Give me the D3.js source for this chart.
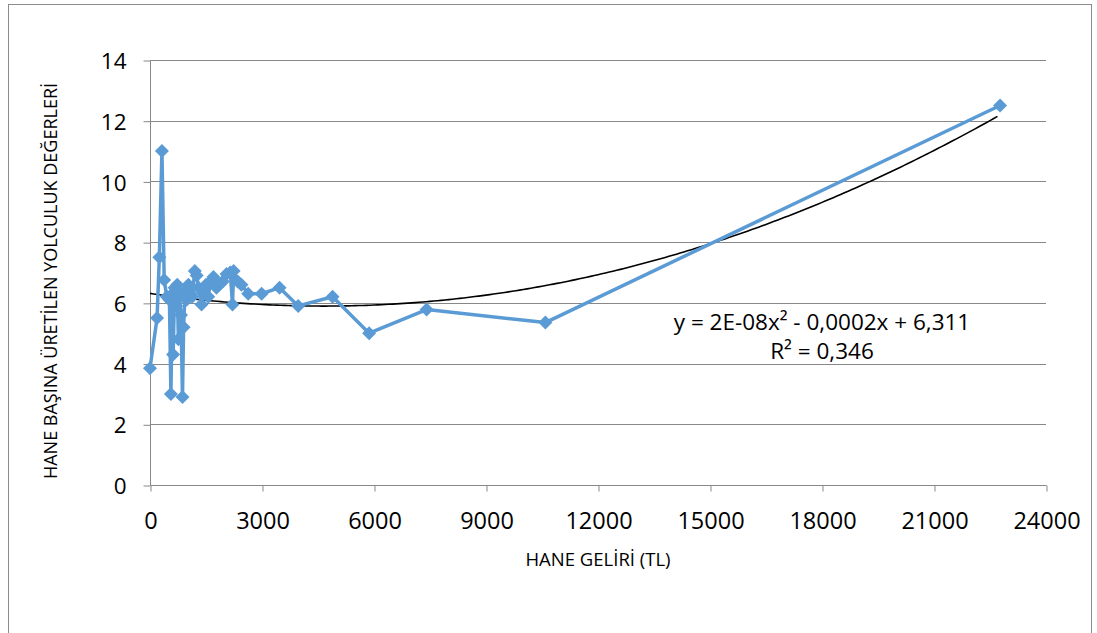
<!DOCTYPE html>
<html><head><meta charset="utf-8">
<script src="https://cdn.jsdelivr.net/npm/d3@7"></script>
<style>
html,body{margin:0;padding:0;background:#fff;}
svg{display:block;font-family:"Open Sans",sans-serif;}
</style></head>
<body>
<svg id="chart" width="1097" height="633"></svg>
<script>
// Data
const income = [0,190,250,320,380,450,520,560,600,620,660,700,730,760,790,830,870,900,940,980,1030,1080,1130,1200,1250,1300,1380,1430,1500,1560,1620,1700,1780,1850,1950,2050,2150,2210,2240,2350,2450,2630,2990,3470,3970,4890,5870,7410,10590,22770];
const trips  = [3.85,5.5,7.5,11.0,6.75,6.2,6.1,3.0,6.3,4.3,6.5,5.9,6.6,4.8,6.3,5.6,2.9,5.2,6.4,6.1,6.6,6.3,6.2,7.05,6.9,6.5,5.95,6.3,6.6,6.2,6.7,6.85,6.5,6.6,6.7,6.95,7.0,5.95,7.05,6.7,6.6,6.3,6.3,6.5,5.9,6.2,5.0,5.78,5.35,12.5];
const xTicks = [0,3000,6000,9000,12000,15000,18000,21000,24000];
const yTicks = [0,2,4,6,8,10,12,14];
const trendCoef = [1.92e-8, -1.79e-4, 6.311]; // a, b, c (unrounded fit)
const eqLines = ["y = 2E-08x² - 0,0002x + 6,311", "R² = 0,346"];
const xTitle = "HANE GELİRİ (TL)";
const yTitle = "HANE BAŞINA ÜRETİLEN YOLCULUK DEĞERLERİ";

const svg = d3.select("#chart");
const L=150,R=1046,T=60,B=485;
const x = d3.scaleLinear().domain([0,24000]).range([L,R]);
const y = d3.scaleLinear().domain([0,14]).range([B,T]);

// outer frame
svg.append("rect").attr("x",8.5).attr("y",4.5).attr("width",1083).attr("height",640)
  .attr("fill","#fff").attr("stroke","#8c8c8c").attr("stroke-width",1);

// gridlines
svg.append("g").selectAll("line").data(yTicks.filter(d=>d>0)).join("line")
  .attr("x1",L).attr("x2",R).attr("y1",d=>Math.round(y(d))+0.5).attr("y2",d=>Math.round(y(d))+0.5)
  .attr("stroke","#888").attr("stroke-width",1);

// y axis
const ya = svg.append("g").attr("transform",`translate(${L+0.5},0.5)`)
  .call(d3.axisLeft(y).tickValues(yTicks).tickSize(7).tickPadding(17).tickFormat(d3.format("d")));
ya.select(".domain").attr("stroke","#888").attr("d",`M0,${T}V${B}`);
ya.selectAll(".tick line").attr("stroke","#888");
ya.selectAll(".tick text").attr("font-size","22.5px").attr("fill","#000").attr("font-family","Open Sans").attr("dy","0.36em");

// x axis
const xa = svg.append("g").attr("transform",`translate(0.5,${B+0.5})`)
  .call(d3.axisBottom(x).tickValues(xTicks).tickSize(6).tickPadding(22).tickFormat(d3.format("d")));
xa.select(".domain").attr("stroke","#888").attr("d",`M${L},0H${R}`);
xa.selectAll(".tick line").attr("stroke","#888");
xa.selectAll(".tick text").attr("font-size","23.5px").attr("fill","#000").attr("font-family","Open Sans").attr("dy","0.68em");

// trendline
const tf = v => trendCoef[0]*v*v + trendCoef[1]*v + trendCoef[2];
const xs = d3.range(0, d3.max(income)+1, 100);
svg.append("path").datum(xs)
  .attr("d", d3.line().x(d=>x(d)).y(d=>y(tf(d))))
  .attr("fill","none").attr("stroke","#000").attr("stroke-width",1.6);

// series line
const data = income.map((d,i)=>({x:d,y:trips[i]}));
svg.append("path").datum(data)
  .attr("d", d3.line().x(d=>x(d.x)).y(d=>y(d.y)))
  .attr("fill","none").attr("stroke","#5B9BD5").attr("stroke-width",3.5).attr("stroke-linejoin","round");

// markers
const dm = "M0,-7L7,0L0,7L-7,0Z";
svg.append("g").selectAll("path").data(data).join("path")
  .attr("transform",d=>`translate(${x(d.x)},${y(d.y)})`)
  .attr("d",dm).attr("fill","#5B9BD5");

// trend equation
svg.append("g").selectAll("text").data(eqLines).join("text")
  .attr("x",822).attr("y",(d,i)=>330+i*29).attr("text-anchor","middle")
  .attr("font-size","22.5px").attr("fill","#000").text(d=>d);

// axis titles
svg.append("text").attr("x",598).attr("y",566).attr("text-anchor","middle")
  .attr("font-size","18.5px").attr("fill","#000").text(xTitle);
svg.append("text").attr("transform","translate(57,281) rotate(-90)").attr("text-anchor","middle")
  .attr("font-size","18px").attr("fill","#000").text(yTitle);
</script>
</body></html>
